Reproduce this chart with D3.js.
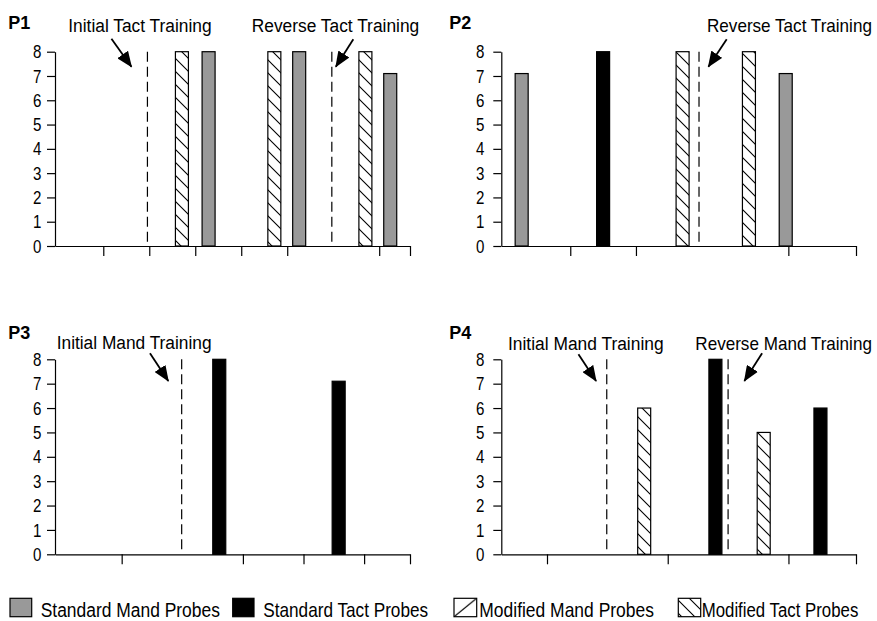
<!DOCTYPE html>
<html>
<head>
<meta charset="utf-8">
<script src="https://cdn.jsdelivr.net/npm/d3@7/dist/d3.min.js"></script>
<style>
  html, body { margin: 0; padding: 0; background: #fff; }
  svg { display: block; }
  .narrow { font-family: "Liberation Sans Narrow", "Arial Narrow", "Liberation Sans", Arial, sans-serif; }
</style>
</head>
<body>
<svg id="chart" width="877" height="621"></svg>
<script>
// ---------------- DATA ----------------
const seriesNames = ["Standard Mand Probes", "Standard Tact Probes", "Modified Mand Probes", "Modified Tact Probes"];
const seriesKeys = ["SM", "ST", "MM", "MT"];
const yTicks = [0, 1, 2, 3, 4, 5, 6, 7, 8];

// P1
const p1Sessions = [2.71, 3.29, 4.72, 5.26, 6.70, 7.24];
const p1Types    = ["MT", "SM", "MT", "SM", "MT", "SM"];
const p1Values   = [8, 8, 8, 8, 8, 7.1];
const p1Phases   = [1.96, 5.97];
const p1PhaseLabels = ["Initial Tact Training", "Reverse Tact Training"];
const p1XTicks   = [1, 2, 3, 4, 5, 7, 7.67];
const p1Domain   = [-0.05, 7.67];

// P2
const p2Sessions = [0.26, 1.50, 2.71, 3.72, 4.28];
const p2Types    = ["SM", "ST", "MT", "MT", "SM"];
const p2Values   = [7.1, 8, 8, 8, 7.1];
const p2Phases   = [2.96];
const p2PhaseLabels = ["Reverse Tact Training"];
const p2XTicks   = [1, 2, 4.32, 5.35];
const p2Domain   = [-0.05, 5.35];

// P3
const p3Sessions = [2.61, 4.58];
const p3Types    = ["ST", "ST"];
const p3Values   = [8, 7.1];
const p3Phases   = [1.99];
const p3PhaseLabels = ["Initial Mand Training"];
const p3XTicks   = [1, 3, 4, 5, 5.757];
const p3Domain   = [-0.10, 5.757];

// P4
const p4Sessions = [2.61, 3.79, 4.59, 5.53];
const p4Types    = ["MT", "ST", "MT", "ST"];
const p4Values   = [6, 8, 5, 6];
const p4Phases   = [1.99, 4.0];
const p4PhaseLabels = ["Initial Mand Training", "Reverse Mand Training"];
const p4XTicks   = [1, 3, 5, 6.119];
const p4Domain   = [0.243, 6.119];

const panelNames = ["P1", "P2", "P3", "P4"];

// ---------------- LAYOUT ----------------
const panels = [
  { name: panelNames[0], sessions: p1Sessions, types: p1Types, values: p1Values, phases: p1Phases, phaseLabels: p1PhaseLabels, xticks: p1XTicks, domain: p1Domain,
    xr: [55, 410], yr: [246, 51.7], title: [8.3, 28.6], labelGap: 13.5,
    ann: [ { tx: 68.3, ty: 31.5, tw: 143.4, tipDx: -16, tipDy: 15, tailDx: -20, tailDy: -28 },
           { tx: 251.7, ty: 31.5, tw: 167.6, tipDx: 4, tipDy: 15, tailDx: 17.5, tailDy: -27.5 } ] },
  { name: panelNames[1], sessions: p2Sessions, types: p2Types, values: p2Values, phases: p2Phases, phaseLabels: p2PhaseLabels, xticks: p2XTicks, domain: p2Domain,
    xr: [501.3, 856], yr: [246, 51.7], title: [449.3, 28.8], labelGap: 17,
    ann: [ { tx: 707, ty: 31.5, tw: 165, tipDx: 9.4, tipDy: 15, tailDx: 18.3, tailDy: -27.4 } ] },
  { name: panelNames[2], sessions: p3Sessions, types: p3Types, values: p3Values, phases: p3Phases, phaseLabels: p3PhaseLabels, xticks: p3XTicks, domain: p3Domain,
    xr: [55, 410], yr: [554.3, 359.3], title: [8.3, 338.8], labelGap: 13.5,
    ann: [ { tx: 56.7, ty: 349.3, tw: 155, tipDx: -13.4, tipDy: 21.7, tailDx: -18.3, tailDy: -27.7 } ] },
  { name: panelNames[3], sessions: p4Sessions, types: p4Types, values: p4Values, phases: p4Phases, phaseLabels: p4PhaseLabels, xticks: p4XTicks, domain: p4Domain,
    xr: [501.3, 856], yr: [554.3, 359.3], title: [449.3, 338.8], labelGap: 17,
    ann: [ { tx: 508, ty: 350, tw: 155.7, tipDx: -10.7, tipDy: 21.7, tailDx: -17.6, tailDy: -26.7 },
           { tx: 695.3, ty: 350, tw: 176.7, tipDx: 16.3, tipDy: 21.7, tailDx: 17.7, tailDy: -27.7 } ] }
];

const legendLayout = {
  boxY: 598.3, boxH: 18.4, textY: 617,
  boxX: [10, 232.7, 454, 678.3], boxW: [21.7, 21.3, 22.7, 22.4],
  textX: [40.7, 263.3, 479.3, 701.7], textW: [179.3, 165, 174.7, 156.6]
};

const barW = 13;
const fills = { SM: "#999999", ST: "#000000", MM: "url(#hatchMand)", MT: "url(#hatchTact)" };

// Horizontally fit a text element to a target width via a scale transform
function fitText(parent, str, x, y, width, size) {
  const t = parent.append("text").attr("class", "narrow")
    .attr("font-size", size).attr("x", 0).attr("y", 0).text(str);
  const natural = t.node().getComputedTextLength();
  const sx = natural > 0 ? width / natural : 1;
  t.attr("transform", `translate(${x},${y}) scale(${sx},1)`);
  return t;
}

// ---------------- DRAW ----------------
const svg = d3.select("#chart");
svg.append("rect").attr("width", 877).attr("height", 621).attr("fill", "#fff");

const defs = svg.append("defs");
const pt = defs.append("pattern").attr("id", "hatchTact").attr("patternUnits", "userSpaceOnUse")
  .attr("width", 13).attr("height", 13);
pt.append("rect").attr("width", 13).attr("height", 13).attr("fill", "#fff");
pt.append("path").attr("d", "M0,0 L13,13 M-3,10 L3,16 M10,-3 L16,3")
  .attr("stroke", "#000").attr("stroke-width", 1.1).attr("fill", "none");

const pm = defs.append("pattern").attr("id", "hatchMand").attr("patternUnits", "objectBoundingBox")
  .attr("patternContentUnits", "objectBoundingBox").attr("width", 1).attr("height", 1);
pm.append("rect").attr("width", 1).attr("height", 1).attr("fill", "#fff");
pm.append("path").attr("d", "M0,1 L1,0").attr("stroke", "#000").attr("stroke-width", 0.06).attr("fill", "none");

defs.append("marker").attr("id", "arrowHead").attr("markerUnits", "userSpaceOnUse")
  .attr("viewBox", "0 0 16 13").attr("markerWidth", 16).attr("markerHeight", 13)
  .attr("refX", 15).attr("refY", 6.5).attr("orient", "auto")
  .append("path").attr("d", "M0,0 L16,6.5 L0,13 Z").attr("fill", "#000");

panels.forEach(p => {
  const g = svg.append("g");
  const x = d3.scaleLinear().domain(p.domain).range(p.xr);
  const y = d3.scaleLinear().domain([0, 8]).range(p.yr);

  // Bars
  const data = p.sessions.map((s, i) => ({ s: s, t: p.types[i], v: p.values[i] }));
  g.selectAll("rect.bar").data(data).enter().append("rect")
    .attr("class", "bar")
    .attr("x", d => x(d.s) - barW / 2)
    .attr("width", barW)
    .attr("y", d => y(d.v))
    .attr("height", d => y(0) - y(d.v))
    .attr("fill", d => fills[d.t])
    .attr("stroke", "#000").attr("stroke-width", 1.2);

  // Phase change lines
  g.selectAll("line.phase").data(p.phases).enter().append("line")
    .attr("class", "phase")
    .attr("x1", d => x(d)).attr("x2", d => x(d))
    .attr("y1", y(8)).attr("y2", y(0))
    .attr("stroke", "#000").attr("stroke-width", 1.2)
    .attr("stroke-dasharray", "10,5");

  // Y axis
  const ya = g.append("g").attr("transform", `translate(${p.xr[0]},0)`)
    .call(d3.axisLeft(y).tickValues(yTicks).tickSize(8).tickSizeOuter(0).tickPadding(5).tickFormat(d3.format("d")));
  ya.selectAll("line, path").attr("stroke", "#000").attr("stroke-width", 1.2);
  ya.selectAll(".tick text")
    .attr("class", "narrow").attr("font-size", 18).attr("fill", "#000")
    .attr("x", 0).attr("dy", "0.34em")
    .attr("transform", `translate(${-p.labelGap},0) scale(0.84,1)`);
  ya.attr("font-family", null).attr("font-size", null);

  // X axis
  const xa = g.append("g").attr("transform", `translate(0,${p.yr[0]})`)
    .call(d3.axisBottom(x).tickValues(p.xticks).tickSize(10).tickSizeOuter(0).tickFormat(""));
  xa.selectAll("line, path").attr("stroke", "#000").attr("stroke-width", 1.2);

  // Panel title
  g.append("text").attr("x", p.title[0]).attr("y", p.title[1])
    .attr("font-family", "'Liberation Sans', Arial, sans-serif").attr("font-weight", "bold")
    .attr("font-size", 18).text(p.name);

  // Annotations
  p.ann.forEach((a, i) => {
    const px = x(p.phases[i]);
    const tipX = px + a.tipDx, tipY = y(8) + a.tipDy;
    g.append("line")
      .attr("x1", tipX + a.tailDx).attr("y1", tipY + a.tailDy)
      .attr("x2", tipX).attr("y2", tipY)
      .attr("stroke", "#000").attr("stroke-width", 1.8)
      .attr("marker-end", "url(#arrowHead)");
    fitText(g, p.phaseLabels[i], a.tx, a.ty, a.tw, 19);
  });
});

// Legend
const lg = svg.append("g");
seriesKeys.forEach((k, i) => {
  lg.append("rect")
    .attr("x", legendLayout.boxX[i]).attr("y", legendLayout.boxY)
    .attr("width", legendLayout.boxW[i]).attr("height", legendLayout.boxH)
    .attr("fill", fills[k]).attr("stroke", "#000").attr("stroke-width", 1.2);
  fitText(lg, seriesNames[i], legendLayout.textX[i], legendLayout.textY, legendLayout.textW[i], 20);
});
</script>
</body>
</html>
